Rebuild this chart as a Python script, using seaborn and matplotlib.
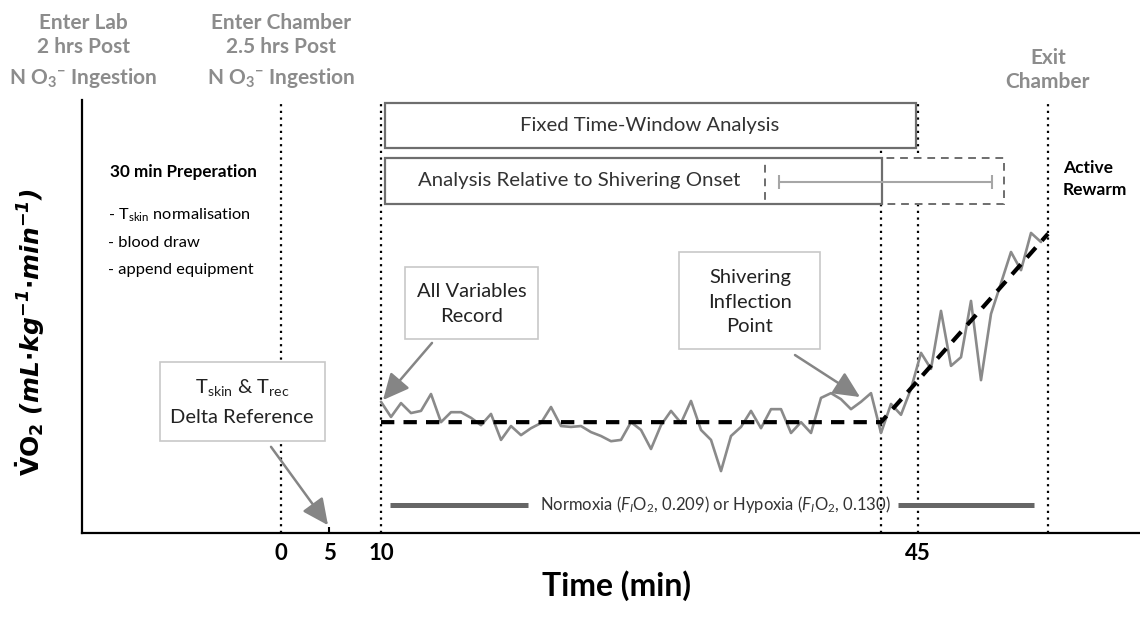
import numpy as np
import pandas as pd
import matplotlib
matplotlib.use("Agg")
import matplotlib.pyplot as plt
from matplotlib.patches import Rectangle
import seaborn as sns

# ---------------- data (schematic units) ----------------
time_pts = list(range(10, 77))
vo2 = [30.3, 26.8, 30.0, 27.7, 28.2, 32.1, 25.6, 27.9, 27.9, 26.6,
       24.9, 27.5, 21.5, 24.7, 22.6, 24.2, 25.4, 29.1, 24.7, 24.5,
       24.7, 23.3, 22.4, 21.2, 21.5, 25.6, 23.8, 19.4, 24.9, 28.2,
       25.4, 30.5, 23.8, 21.5, 14.3, 22.4, 24.5, 28.2, 24.2, 28.6,
       28.6, 23.1, 25.6, 23.1, 31.2, 32.3, 30.9, 28.6, 30.3, 32.3,
       23.1, 29.8, 27.3, 33.3, 41.6, 37.9, 51.3, 38.6, 40.6, 53.6,
       35.3, 50.6, 57.7, 64.9, 60.7, 69.3, 67.2]
fit_x = [10, 60, 76.7]
fit_y = [25.6, 25.6, 69.1]

tick_pos = [0, 4.8, 10, 63.7]
tick_labels = ["0", "5", "10", "45"]

event_x = [0, 10, 60, 63.7, 76.7]
event_top = [99.5, 99.5, 88.5, 99.3, 99.3]

fixed_win = (10.4, 63.5)
shiver_win = (10.4, 60.1)
shiver_var = (48.4, 72.3)
shiver_err = (49.8, 71.1)
gas_left = (10.9, 24.7)
gas_right = (61.7, 75.3)

# ---------------- style ----------------
sns.set_theme(style="white")
plt.rcParams['font.family'] = ['Lato', 'DejaVu Sans']
plt.rcParams['mathtext.fontset'] = 'custom'
plt.rcParams['mathtext.rm'] = 'Lato'
plt.rcParams['mathtext.it'] = 'Lato:italic'
plt.rcParams['mathtext.bf'] = 'Lato:bold'
plt.rcParams['mathtext.bfit'] = 'Lato:bold:italic'

fig = plt.figure(figsize=(11.4, 6.18), dpi=100)
ax = fig.add_axes([82/1140, 85/618, 1058/1140, 433/618])
ax.set_xlim(-19.9, 85.9)
ax.set_ylim(0, 100)

GREY_T = '#8c8c8c'
BOX_EC = '#6e6e6e'
TXT = '#333333'

# event dotted lines
ax.vlines(event_x, 0, event_top, colors='black', linestyles=(0, (1, 2.0)), lw=1.6, zorder=1)

# trace and fits
sns.lineplot(x=time_pts, y=vo2, ax=ax, color='#8a8a8a', lw=1.9, zorder=6)
ax.plot(fit_x, fit_y, color='black', lw=3, linestyle=(0, (3.2, 2.2)), zorder=7,
        solid_capstyle='butt', dash_capstyle='butt')

# analysis boxes
ax.add_patch(Rectangle((fixed_win[0], 88.9), fixed_win[1]-fixed_win[0], 10.4,
                       fc='white', ec=BOX_EC, lw=1.6, zorder=3))
ax.add_patch(Rectangle((shiver_var[0], 76.0), shiver_var[1]-shiver_var[0], 10.6,
                       fc='white', ec=BOX_EC, lw=1.4, ls=(0, (4, 3)), zorder=3))
ax.add_patch(Rectangle((shiver_win[0], 76.0), shiver_win[1]-shiver_win[0], 10.6,
                       fc='none', ec=BOX_EC, lw=1.6, zorder=4))
ax.add_patch(Rectangle((shiver_win[0]+0.2, 76.3), shiver_var[0]-shiver_win[0]-0.4, 10.0,
                       fc='white', ec='none', zorder=3.5))
ax.errorbar([(shiver_err[0]+shiver_err[1])/2], [81.1], xerr=[(shiver_err[1]-shiver_err[0])/2],
            color='#a6a6a6', lw=1.5, capsize=5, capthick=1.5, zorder=5)
ax.text(36.9, 94.0, "Fixed Time-Window Analysis", ha='center', va='center',
        fontsize=14.6, color=TXT, zorder=6)
ax.text(29.8, 81.3, "Analysis Relative to Shivering Onset", ha='center', va='center',
        fontsize=14.7, color=TXT, zorder=6)

# gas bars
ax.plot(gas_left, [6.5, 6.5], color='#666666', lw=3.6, solid_capstyle='butt', zorder=4)
ax.plot(gas_right, [6.5, 6.5], color='#666666', lw=3.6, solid_capstyle='butt', zorder=4)
ax.text(43.4, 6.5, r"Normoxia ($\mathit{F}_{\mathit{I}}$O$_{2}$, 0.209) or Hypoxia ($\mathit{F}_{\mathit{I}}$O$_{2}$, 0.130)",
        ha='center', va='center', fontsize=12, color=TXT, zorder=5)

# annotation boxes
def note_box(x0, x1, y0, y1):
    ax.add_patch(Rectangle((x0, y0), x1-x0, y1-y0, fc='white', ec='#c8c8c8', lw=1.2, zorder=8))

note_box(-12.1, 4.4, 21.2, 39.5)
ax.text(-3.9, 33.7, r"T$_{\mathrm{skin}}$ & T$_{\mathrm{rec}}$", ha='center', va='center',
        fontsize=14.5, color='#222222', zorder=9)
ax.text(-3.9, 26.6, "Delta Reference", ha='center', va='center', fontsize=14.5,
        color='#222222', zorder=9)

note_box(12.4, 25.7, 44.8, 61.4)
ax.text(19.1, 55.7, "All Variables", ha='center', va='center', fontsize=14.5, color='#222222', zorder=9)
ax.text(19.1, 50.1, "Record", ha='center', va='center', fontsize=14.5, color='#222222', zorder=9)

note_box(39.8, 53.9, 42.5, 64.9)
for yy, s in zip([59.1, 53.3, 47.8], ["Shivering", "Inflection", "Point"]):
    ax.text(46.9, yy, s, ha='center', va='center', fontsize=14.5, color='#222222', zorder=9)

arrow_kw = dict(arrowstyle='-|>,head_length=0.8,head_width=0.38', color='#858585', lw=1.8,
                shrinkA=0, shrinkB=0, mutation_scale=20)
ax.annotate("", xy=(10.2, 30.7), xytext=(15.1, 43.9), arrowprops=arrow_kw, zorder=9)
ax.annotate("", xy=(57.9, 31.4), xytext=(51.4, 41.1), arrowprops=arrow_kw, zorder=9)
ax.annotate("", xy=(4.7, 1.8), xytext=(-1.0, 19.9), arrowprops=arrow_kw, zorder=9,
            annotation_clip=False)

# preparation notes
ax.text(-17.1, 83.4, "30 min Preperation", ha='left', va='center', fontsize=12.3,
        fontweight='bold', color='black')
for yy, s in zip([73.4, 67.0, 60.7],
                 [r"- T$_{\mathrm{skin}}$ normalisation", "- blood draw", "- append equipment"]):
    ax.text(-17.3, yy, s, ha='left', va='center', fontsize=11.8, color='black')
ax.text(78.2, 84.3, "Active", ha='left', va='center', fontsize=12.5, fontweight='bold', color='black')
ax.text(78.2, 79.2, "Rewarm", ha='left', va='center', fontsize=12.5, fontweight='bold', color='black')

# header labels
hdr = dict(ha='center', va='center', fontsize=15, fontweight='bold', color=GREY_T, clip_on=False)
no3 = r"N O$_{\mathbf{3}}$$^{\mathbf{-}}$Ingestion"
ax.text(-19.8, 117.8, "Enter Lab", **hdr)
ax.text(-19.8, 112.2, "2 hrs Post", **hdr)
ax.text(-19.8, 105.0, no3.replace("Ingestion", " Ingestion"), **hdr)
ax.text(0, 117.8, "Enter Chamber", **hdr)
ax.text(0, 112.2, "2.5 hrs Post", **hdr)
ax.text(0, 105.0, no3.replace("Ingestion", " Ingestion"), **hdr)
ax.text(76.7, 109.7, "Exit", **hdr)
ax.text(76.7, 104.2, "Chamber", **hdr)

# axes
sns.despine(ax=ax, top=True, right=True)
for side in ['left', 'bottom']:
    ax.spines[side].set_color('black')
    ax.spines[side].set_linewidth(1.6)
ax.set_yticks([])
ax.set_xticks(tick_pos)
ax.set_xticklabels(tick_labels, fontsize=16, fontweight='bold', color='black')
ax.tick_params(axis='x', length=0, pad=7)
ax.vlines([tick_pos[1]], 0, 1.4, colors='black', lw=1.5, zorder=2)

ax.set_xlabel("Time (min)", fontsize=23, fontweight='bold', color='black')
ax.xaxis.set_label_coords(0.505, -0.085)
ax.set_ylabel("")
fig.text(30/1140, 1-332/618,
         r"$\mathbf{\dot{V}O_{2}}\ \mathbfit{(mL{\cdot}kg^{-1}{\cdot}min^{-1})}$",
         rotation=90, ha='center', va='center', fontsize=18, color='black',
         math_fontfamily='dejavusans')

fig.savefig("out.png", dpi=100)
